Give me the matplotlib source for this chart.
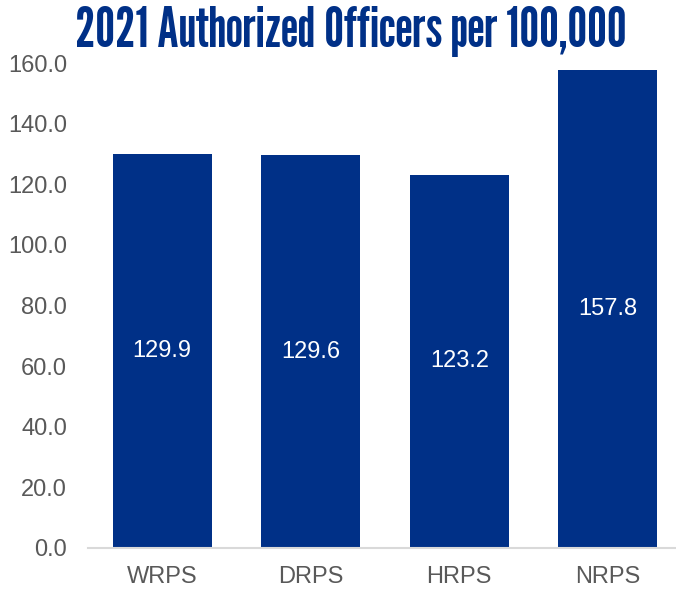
import matplotlib
matplotlib.use("Agg")
import matplotlib.pyplot as plt

agencies = ["WRPS", "DRPS", "HRPS", "NRPS"]
officers_per_100k = [129.9, 129.6, 123.2, 157.8]
y_ticks = [0, 20, 40, 60, 80, 100, 120, 140, 160]

navy = "#003087"
grey = "#595959"
body_font = ["Liberation Sans", "DejaVu Sans"]

fig = plt.figure(figsize=(6.76, 5.92), dpi=100)
ax = fig.add_axes([88 / 676, 1 - 548 / 592, 594 / 676, 485 / 592])

bars = ax.bar(range(len(agencies)), officers_per_100k, width=0.667, color=navy)
for b, v in zip(bars, officers_per_100k):
    ax.text(b.get_x() + b.get_width() / 2, v / 2, f"{v:.1f}", ha="center", va="center",
            color="white", fontsize=17, family=body_font)

ax.set_xlim(-0.5, 3.5)
ax.set_ylim(0, 160)
ax.set_yticks(y_ticks)
ax.set_yticklabels([f"{t:.1f}" for t in y_ticks])
ax.set_xticks(range(len(agencies)))
ax.set_xticklabels(agencies)
for lab in ax.get_xticklabels() + ax.get_yticklabels():
    lab.set_family(body_font)
    lab.set_fontsize(17)
    lab.set_color(grey)
ax.tick_params(length=0)
ax.tick_params(axis="y", pad=15)
ax.tick_params(axis="x", pad=13)
for s in ["top", "right", "left"]:
    ax.spines[s].set_visible(False)
ax.spines["bottom"].set_color("#d9d9d9")
ax.spines["bottom"].set_linewidth(1.5)

# title font is a heavy condensed face, League Gothic is the closest installed
fig.text(351 / 676, 1 - 47 / 592, "2021 Authorized Officers per 100,000", ha="center", va="baseline",
         color=navy, fontsize=40, fontweight="bold", family=["League Gothic", "DejaVu Sans"])

fig.savefig("out.png", dpi=100)
